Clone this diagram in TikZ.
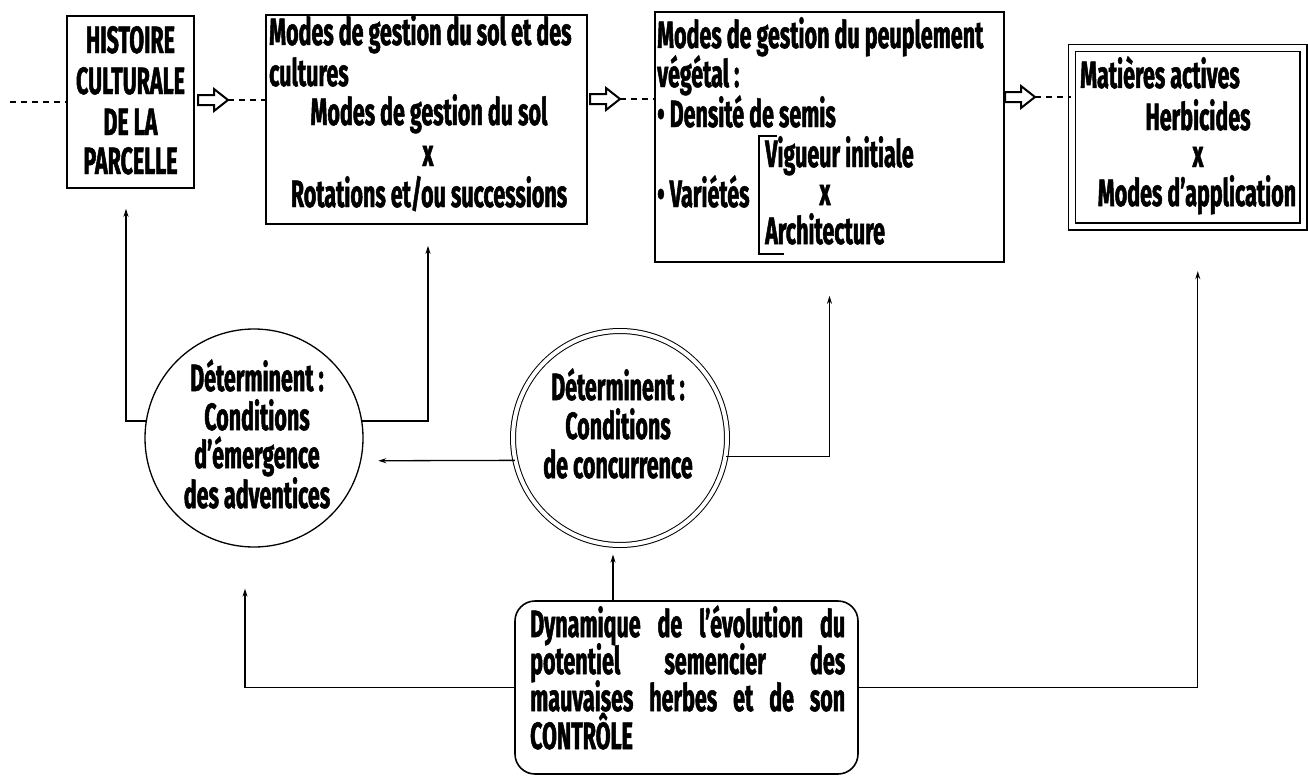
\documentclass[tikz,border=0pt]{standalone}
\usepackage{fontspec}
\newfontfamily\cf{Fira Sans}[FakeStretch=0.565, FakeBold=1.3]
\usetikzlibrary{arrows.meta}
\begin{document}
\begin{tikzpicture}[x=1pt,y=-1pt,
  every node/.style={font=\cf\bfseries\fontsize{38}{38}\selectfont},
  boxnode/.style={draw, rectangle, line width=1.6pt, inner sep=0pt},
  txt/.style={inner sep=0pt, anchor=base west},
  txtc/.style={inner sep=0pt, anchor=base},
  conn/.style={line width=1.3pt, -{Stealth[length=8pt,width=5pt]}},
  dashline/.style={line width=1.2pt, dash pattern=on 6pt off 5pt},
  hollow/.style={line width=2pt, fill=white, line join=miter}]
\fill[white] (0,0) rectangle (1308,776);
\useasboundingbox (0,0) rectangle (1308,776);

% boxes
\node[boxnode, minimum width=127pt, minimum height=172pt] (box1) at (130.5,102) {};
\node[boxnode, minimum width=321pt, minimum height=209pt] (box2) at (426.5,119.5) {};
\node[boxnode, minimum width=349pt, minimum height=250pt] (box3) at (829.5,137) {};
\node[draw, rectangle, inner sep=0pt, line width=1.3pt, double, double distance=5.6pt,
      minimum width=231.5pt, minimum height=178.5pt] (box4) at (1187.75,137.25) {};
\node[draw, circle, inner sep=0pt, line width=1.3pt, minimum size=218pt] (c1) at (254,438) {};
\node[draw, circle, inner sep=0pt, line width=1pt, double, double distance=4pt,
      minimum size=214pt] (c2) at (620,438) {};
\node[draw, rectangle, rounded corners=20pt, inner sep=0pt, line width=1.6pt,
      minimum width=343pt, minimum height=173pt] (box5) at (686.5,687.5) {};

% bracket inside box 3
\draw[line width=1.3pt] (777,136) -- (759,136) -- (759,254) -- (784,254);

% top chain
\coordinate (lstart) at (10,102);
\draw[dashline] (lstart) -- (box1.west);
\coordinate (h1) at (228,100);
\coordinate (h2) at (620,99);
\coordinate (h3) at (1035,97);
\foreach \h in {h1,h2,h3}{
  \draw[hollow] (\h) ++(-30,-5) -- ++(16,0) -- ++(0,-6) -- ++(14,11) -- ++(-14,11) -- ++(0,-6) -- ++(-16,0) -- cycle;
}
\draw[dashline] (h1) -- (box2.west |- h1);
\draw[dashline] (h2) -- (box3.west |- h2);
\draw[dashline] (h3) -- (box4.west |- h3);

% connectors
\coordinate (b1b) at ([xshift=-4.5pt]box1.south);
\coordinate (b2b) at ([xshift=1.5pt]box2.south);
\coordinate (c2b) at ([xshift=-7pt]c2.south);
\coordinate (c1b) at ([xshift=-9pt]c1.south);
\coordinate (b4b) at ([xshift=10pt]box4.south);
\draw[conn, shorten >=20pt] (c1.171) -| (b1b);
\draw[conn, shorten >=21pt] (c1.9) -| (b2b);
\draw[conn, shorten >=17pt] (c2.192) -- (c1.348);
\draw[conn, shorten >=33pt] (c2.350) -| (box3.south);
\draw[conn, shorten >=9pt] (c2b |- box5.north) -- (c2b);
\draw[conn, shorten >=41pt] (box5.west) -| (c1b);
\draw[conn, shorten >=44pt] (box5.east) -| (b4b);

% texts box 1
\node[txtc] (t1a) at (130.5,53) {HISTOIRE};
\node[txtc] (t1b) at (130.5,94) {CULTURALE};
\node[txtc] (t1c) at (130.5,135) {DE LA};
\node[txtc] (t1d) at (130.5,174) {PARCELLE};
% box 2
\node[txt] (t2a) at (269,45) {Modes de gestion du sol et des};
\node[txt] (t2b) at (269,86) {cultures};
\node[txtc] (t2c) at (429,125) {Modes de gestion du sol};
\node[txtc] (t2d) at (428,166) {x};
\node[txtc] (t2e) at (429,207) {Rotations et/ou successions};
% box 3
\node[txt] (t3a) at (657,48) {Modes de gestion du peuplement};
\node[txt] (t3b) at (657,87) {végétal :};
\node[txt] (t3c) at (657,127) {• Densité de semis};
\node[txt] (t3d) at (765,167) {Vigueur initiale};
\node[txt] (t3e) at (657,207) {• Variétés};
\node[txtc] (t3f) at (825,205) {x};
\node[txt] (t3g) at (765,244) {Architecture};
% box 4
\node[txt] (t4a) at (1080,88) {Matières actives};
\node[txtc] (t4b) at (1198,130) {Herbicides};
\node[txtc] (t4c) at (1198,167) {x};
\node[txtc] (t4d) at (1197,206) {Modes d’application};
% circle 1
\node[txtc] (tc1a) at (257,391) {Déterminent :};
\node[txtc] (tc1b) at (257,430) {Conditions};
\node[txtc] (tc1c) at (257,468) {d’émergence};
\node[txtc] (tc1d) at (257,508) {des adventices};
% circle 2
\node[txtc] (tc2a) at (618,400) {Déterminent :};
\node[txtc] (tc2b) at (618,439) {Conditions};
\node[txtc] (tc2c) at (618,478) {de concurrence};
% bottom box
\node[txt] (t5a) at (530,637) {\makebox[315pt][s]{Dynamique de l’évolution du}};
\node[txt] (t5b) at (530,674) {\makebox[315pt][s]{potentiel semencier des}};
\node[txt] (t5c) at (530,711) {\makebox[315pt][s]{mauvaises herbes et de son}};
\node[txt] (t5d) at (530,749) {CONTRÔLE};
\end{tikzpicture}
\end{document}
